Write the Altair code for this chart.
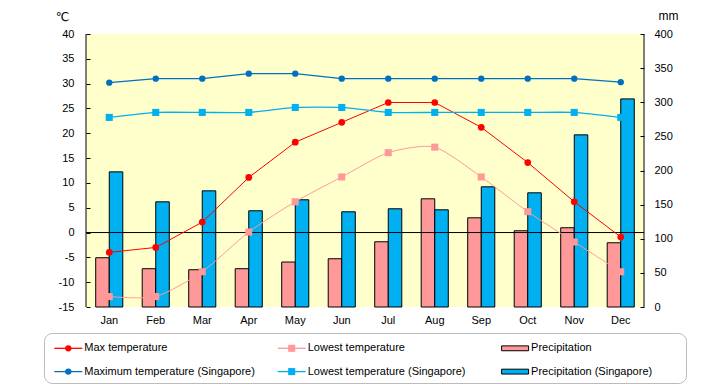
import altair as alt
import pandas as pd

months = ["Jan", "Feb", "Mar", "Apr", "May", "Jun", "Jul", "Aug", "Sep", "Oct", "Nov", "Dec"]
max_temp = [-4.0, -3.0, 2.1, 11.1, 18.2, 22.2, 26.2, 26.2, 21.2, 14.1, 6.2, -0.9]
low_temp = [-12.9, -12.9, -7.9, 0.1, 6.2, 11.2, 16.1, 17.2, 11.2, 4.2, -1.9, -7.9]
sg_max_temp = [30.2, 31.0, 31.0, 32.0, 32.0, 31.0, 31.0, 31.0, 31.0, 31.0, 31.0, 30.3]
sg_low_temp = [23.2, 24.2, 24.2, 24.2, 25.2, 25.2, 24.2, 24.2, 24.2, 24.2, 24.2, 23.2]
precip = [72.2, 56.1, 54.6, 56.1, 65.9, 70.7, 95.6, 158.5, 130.7, 111.7, 116.1, 94.1]
sg_precip = [198.0, 154.1, 170.2, 141.0, 157.1, 139.5, 143.9, 142.4, 176.1, 167.3, 252.2, 304.9]

legend_labels = ["Max temperature", "Lowest temperature", "Precipitation",
                 "Maximum temperature (Singapore)", "Lowest temperature (Singapore)",
                 "Precipitation (Singapore)"]
legend_cols = [0, 1, 2, 0, 1, 2]
legend_rows = [0, 0, 0, 1, 1, 1]
legend_kinds = ["circle", "square", "bar", "circle", "square", "bar"]

RED = "#FF0000"
PINK = "#FF9999"
DBLUE = "#0070C0"
LBLUE = "#00B0F0"
BG = "#FFFFCC"
FONT = "Liberation Sans, Arial, DejaVu Sans"
legend_colors = [RED, PINK, PINK, DBLUE, LBLUE, LBLUE]

W, H = 558, 273

df = pd.DataFrame({
    "month": months,
    "max_t": max_temp,
    "low_t": low_temp,
    "sg_max": sg_max_temp,
    "sg_low": sg_low_temp,
    "Precipitation": precip,
    "Precipitation (Singapore)": sg_precip,
})

x_enc = alt.X(
    "month:N", sort=months,
    scale=alt.Scale(paddingInner=0.418, paddingOuter=0.209),
    axis=alt.Axis(title=None, labelAngle=0, ticks=False, domain=False,
                  labelPadding=7, labelFont=FONT, labelFontSize=11, labelColor="black"),
)

temp_scale = alt.Scale(domain=[-15, 40], nice=False, zero=False)
temp_axis = alt.Axis(
    orient="left", values=list(range(-15, 41, 5)), grid=False, domain=False,
    offset=-4, tickSize=4, tickColor="black", labelPadding=12,
    labelFont=FONT, labelFontSize=11, labelColor="black",
    labelExpr="'' + datum.value",
    title="℃", titleAngle=0, titleX=-28, titleY=-18, titleAlign="center",
    titleBaseline="middle", titleFont=FONT, titleFontSize=12,
    titleFontWeight="normal", titleColor="black",
)

def ty(field):
    return alt.Y(field, type="quantitative", scale=temp_scale, axis=temp_axis)

precip_series = ["Precipitation", "Precipitation (Singapore)"]
bars = alt.Chart(df).transform_fold(precip_series, as_=["series", "mm"]).mark_bar(
    stroke="black", strokeWidth=1
).encode(
    x=x_enc,
    xOffset=alt.XOffset("series:N", scale=alt.Scale(domain=precip_series, paddingInner=0, paddingOuter=0)),
    y=alt.Y("mm:Q", scale=alt.Scale(domain=[0, 400], nice=False),
            axis=alt.Axis(orient="right", values=list(range(0, 401, 50)), grid=False,
                          domain=False, offset=-4, tickSize=4, tickColor="black",
                          labelPadding=10, labelFont=FONT, labelFontSize=11, labelColor="black",
                          title="mm", titleAngle=0, titleX=28, titleY=-19, titleAlign="center",
                          titleBaseline="middle", titleFont=FONT, titleFontSize=12,
                          titleFontWeight="normal", titleColor="black")),
    color=alt.Color("series:N", scale=alt.Scale(domain=precip_series, range=[PINK, LBLUE]), legend=None),
)

zero_df = pd.DataFrame({"z": [0]})
zero_rule = alt.Chart(zero_df).mark_rule(color="black", strokeWidth=1).encode(y=ty("z"))
frame_left = alt.Chart(zero_df).mark_rule(color="black", strokeWidth=1).encode(
    x=alt.value(0), y=alt.value(0), y2=alt.value(H))
frame_right = alt.Chart(zero_df).mark_rule(color="black", strokeWidth=1).encode(
    x=alt.value(W), y=alt.value(0), y2=alt.value(H))

base = alt.Chart(df)
sg_max_line = base.mark_line(color=DBLUE, strokeWidth=1.3).encode(x=x_enc, y=ty("sg_max"))
sg_max_pts = base.mark_point(shape="circle", filled=True, size=40, color=DBLUE, opacity=1).encode(x=x_enc, y=ty("sg_max"))
sg_low_line = base.mark_line(color=LBLUE, strokeWidth=1.3, interpolate="cardinal", tension=0.5).encode(x=x_enc, y=ty("sg_low"))
sg_low_pts = base.mark_point(shape="square", filled=True, size=50, color=LBLUE, opacity=1).encode(x=x_enc, y=ty("sg_low"))
low_line = base.mark_line(color=PINK, strokeWidth=1, interpolate="cardinal", tension=0.3).encode(x=x_enc, y=ty("low_t"))
low_pts = base.mark_point(shape="square", filled=True, size=50, color=PINK, opacity=1).encode(x=x_enc, y=ty("low_t"))
max_line = base.mark_line(color=RED, strokeWidth=1).encode(x=x_enc, y=ty("max_t"))
max_pts = base.mark_point(shape="circle", filled=True, size=45, color=RED, opacity=1).encode(x=x_enc, y=ty("max_t"))

temp_layer = alt.layer(zero_rule, low_line, low_pts, max_line, max_pts,
                       sg_low_line, sg_low_pts, sg_max_line, sg_max_pts,
                       frame_left, frame_right)

main = alt.layer(bars, temp_layer).resolve_scale(y="independent").properties(
    width=W, height=H,
    view=alt.ViewBackground(fill=BG, strokeWidth=0, stroke="transparent"),
)

# legend
leg_df = pd.DataFrame({
    "label": legend_labels, "col": legend_cols, "row": legend_rows,
    "kind": legend_kinds, "color": legend_colors,
})
LW, LH = 642, 50
lx = alt.X("col:Q", scale=alt.Scale(domain=[-0.1088, 2.765], nice=False, zero=False), axis=None)
ly = alt.Y("row:Q", scale=alt.Scale(domain=[-0.657, 1.489], nice=False, zero=False, reverse=True), axis=None)
lbase = alt.Chart(leg_df)
l_lines = lbase.transform_filter("datum.kind != 'bar'").mark_point(
    shape="M-1,0H1", size=784, strokeWidth=1.3, filled=False, opacity=1
).encode(x=lx, y=ly, color=alt.Color("color:N", scale=None))
l_circ = lbase.transform_filter("datum.kind == 'circle'").mark_point(
    shape="circle", filled=True, size=40, opacity=1
).encode(x=lx, y=ly, color=alt.Color("color:N", scale=None))
l_sq = lbase.transform_filter("datum.kind == 'square'").mark_point(
    shape="square", filled=True, size=50, opacity=1
).encode(x=lx, y=ly, color=alt.Color("color:N", scale=None))
l_bar = lbase.transform_filter("datum.kind == 'bar'").mark_point(
    shape="M-1,-0.18H1V0.18H-1Z", filled=True, size=729, stroke="black", strokeWidth=1, opacity=1
).encode(x=lx, y=ly, fill=alt.Fill("color:N", scale=None))
l_text = lbase.mark_text(align="left", baseline="middle", dx=16, font=FONT, fontSize=11, color="black").encode(
    x=lx, y=ly, text="label:N")

legend = alt.layer(l_lines, l_circ, l_sq, l_bar, l_text).properties(
    width=LW, height=LH,
    view=alt.ViewBackground(fill="white", stroke="#BBBBBB", strokeWidth=1, cornerRadius=8),
)

chart = alt.vconcat(main, legend, spacing=26, center=True, bounds="flush").properties(
    padding={"left": 35, "top": 1, "right": 0, "bottom": 0},
    background="white",
)

chart.save("out.html", embed_options={"renderer": "svg", "actions": False})
